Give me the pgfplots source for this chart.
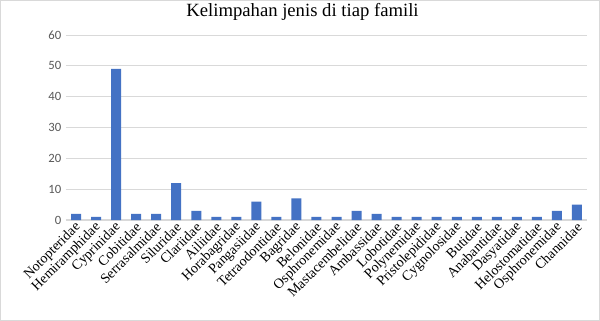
\documentclass[border=0pt]{standalone}
\usepackage{pgfplots}
\pgfplotsset{compat=1.18}
\usepackage{fontspec}
\setmainfont{Liberation Serif}
\newfontfamily\carlito{Carlito}
\definecolor{barblue}{HTML}{4472C4}
\definecolor{gridgray}{HTML}{D9D9D9}
\definecolor{ticktxt}{HTML}{595959}
\begin{document}
\begin{tikzpicture}
\path[use as bounding box] (-49.5pt,-75.75pt) rectangle (400.5pt,165pt);
\fill[white] (-49.5pt,-75.75pt) rectangle (400.5pt,165pt);
\draw[gridgray, line width=0.6pt] (-49.2pt,-75.45pt) rectangle (400.2pt,164.7pt);
\begin{axis}[
  at={(0,0)}, anchor=south west,
  scale only axis,
  width=390.75pt, height=138.75pt,
  ymin=0, ymax=60, ytick={0,10,...,60},
  xmin=-0.5, xmax=25.5,
  xtick=data,
  xticklabels={Notopteridae,Hemiramphidae,Cyprinidae,Cobitidae,Serrasalmidae,Siluridae,Clariidae,Ailiidae,Horabagridae,Pangasiidae,Tetraodontidae,Bagridae,Belonidae,Osphronemidae,Mastacembelidae,Ambassidae,Lobotidae,Polynemidae,Pristolepididae,Cygnolosidae,Butidae,Anabantidae,Dasyatidae,Helostomatidae,Osphronemidae,Channidae},
  xticklabel style={rotate=45, anchor=east, font=\fontsize{10.5}{12}\selectfont, text=black, xshift=2pt, yshift=-4pt},
  yticklabel style={font=\carlito\fontsize{9.5}{11}\selectfont, text=ticktxt},
  /pgf/number format/assume math mode=true,
  major tick length=0pt,
  axis line style={draw=none},
  ymajorgrids, grid style={gridgray, line width=0.75pt},
  title={Kelimpahan jenis di tiap famili},
  title style={at={(0.5,1)}, anchor=center, yshift=11pt, xshift=-18pt, font=\fontsize{14}{16}\selectfont},
  clip=false,
]
\addplot[ybar, bar width=7.5pt, fill=barblue, draw=none] coordinates {
(0,2) (1,1) (2,49) (3,2) (4,2) (5,12) (6,3) (7,1) (8,1) (9,6) (10,1) (11,7) (12,1)
(13,1) (14,3) (15,2) (16,1) (17,1) (18,1) (19,1) (20,1) (21,1) (22,1) (23,1) (24,3) (25,5)
};
\end{axis}
\end{tikzpicture}
\end{document}
